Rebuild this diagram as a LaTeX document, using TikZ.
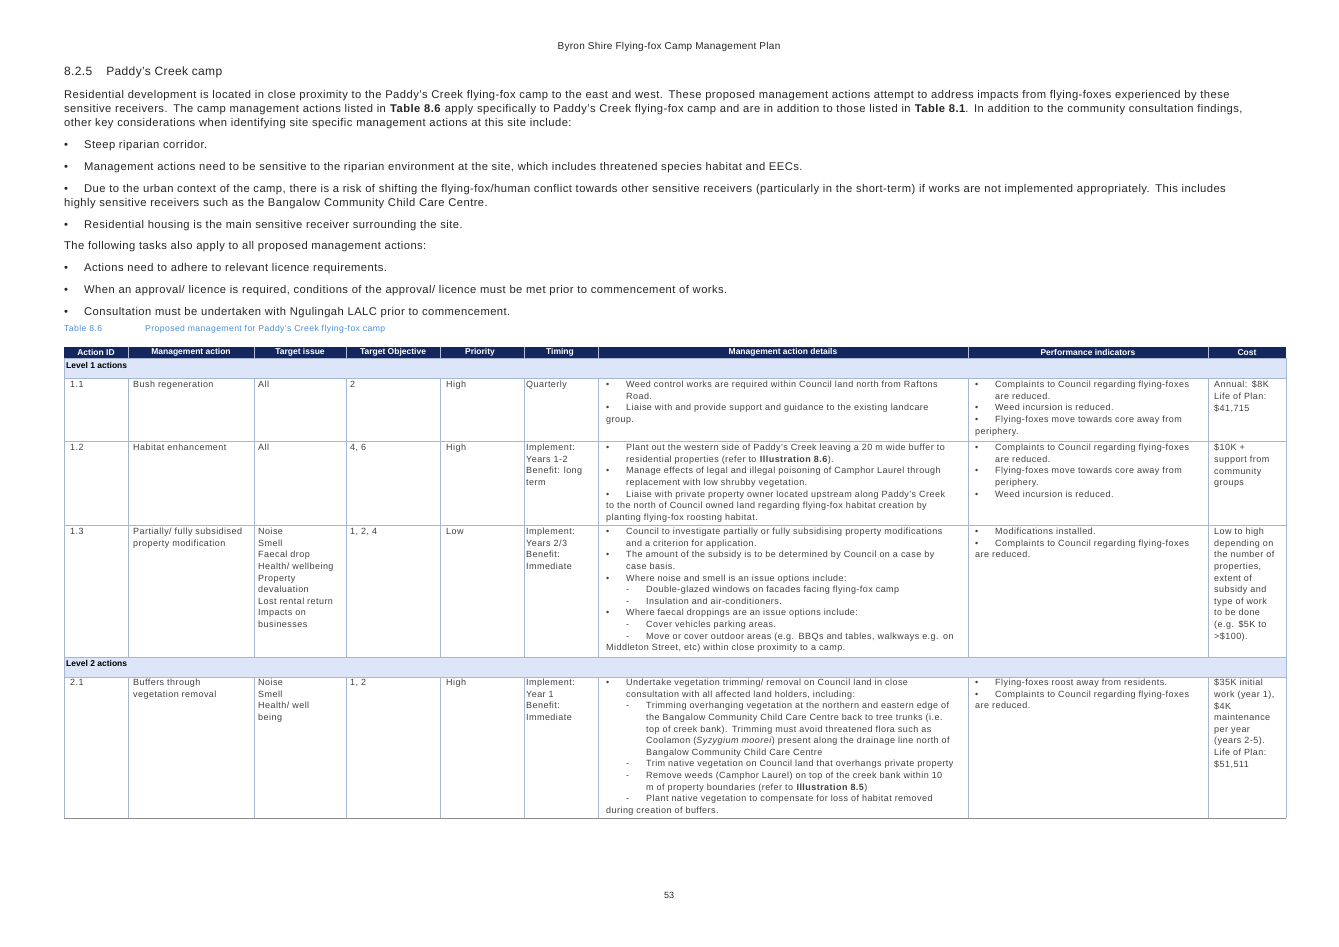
\documentclass[tikz,border=0pt]{standalone}
\usepackage{fontspec}
\setmainfont{Liberation Sans}
\definecolor{navy}{HTML}{13275E}
\definecolor{lvl}{HTML}{DCE6F8}
\definecolor{grid}{HTML}{A7B6D2}
\definecolor{capblue}{HTML}{4A8FD6}
\newcommand\nl{\hfil\break}
\newcommand\bif{\noindent\hangindent=20pt\hangafter=1\makebox[20pt][l]{\textbullet}}
\newcommand\bi{\par\bif}
\newcommand\di{\par\noindent\hangindent=40pt\hangafter=1\hspace*{20pt}\makebox[20pt][l]{-}}
\newcommand\pb{\noindent\hangindent=20pt\hangafter=1\makebox[20pt][l]{\textbullet}}
\tikzset{
 body/.style={anchor=north west,inner sep=0pt,align=left,font=\fontsize{11.2}{14}\selectfont\addfontfeature{LetterSpace=4},text=black!85},
 cell/.style={anchor=north west,inner sep=0pt,align=left,font=\fontsize{9}{11.6}\selectfont\addfontfeature{LetterSpace=5},text=black!75},
 hd/.style={font=\fontsize{8.5}{9}\selectfont\bfseries,text=white,inner sep=0pt},
 gl/.style={draw=grid,line width=0.6pt}
}
\begin{document}
\begin{tikzpicture}[x=1pt,y=-1pt]
\useasboundingbox (0,0) rectangle (1339,947);
\fill[white] (0,0) rectangle (1339,947);
\node[font=\fontsize{10}{11}\selectfont\addfontfeature{LetterSpace=3},text=black!85] (ttl) at (669,47) {Byron Shire Flying-fox Camp Management Plan};
\node[anchor=west,inner sep=0,font=\fontsize{12}{13}\selectfont\addfontfeature{LetterSpace=3},text=black!85] (sec) at (64,72) {8.2.5\hspace{14pt}Paddy's Creek camp};
\node[body,text width=1230pt] (p1) at (64,90) {Residential development is located in close proximity to the Paddy's Creek flying-fox camp to the east and west. These proposed management actions attempt to address impacts from flying-foxes experienced by these\nl
sensitive receivers. The camp management actions listed in \textbf{Table 8.6} apply specifically to Paddy's Creek flying-fox camp and are in addition to those listed in \textbf{Table 8.1}. In addition to the community consultation findings,\nl
other key considerations when identifying site specific management actions at this site include:};
\node[body,text width=1230pt] (b1) at (64,140) {\pb Steep riparian corridor.};
\node[body,text width=1230pt] (b2) at (64,162) {\pb Management actions need to be sensitive to the riparian environment at the site, which includes threatened species habitat and EECs.};
\node[body,text width=1230pt] (b3) at (64,184) {\pb Due to the urban context of the camp, there is a risk of shifting the flying-fox/human conflict towards other sensitive receivers (particularly in the short-term) if works are not implemented appropriately. This includes\nl
highly sensitive receivers such as the Bangalow Community Child Care Centre.};
\node[body,text width=1230pt] (b4) at (64,220) {\pb Residential housing is the main sensitive receiver surrounding the site.};
\node[body,text width=1230pt] (p2) at (64,241) {The following tasks also apply to all proposed management actions:};
\node[body,text width=1230pt] (b5) at (64,263) {\pb Actions need to adhere to relevant licence requirements.};
\node[body,text width=1230pt] (b6) at (64,285) {\pb When an approval/ licence is required, conditions of the approval/ licence must be met prior to commencement of works.};
\node[body,text width=1230pt] (b7) at (64,307) {\pb Consultation must be undertaken with Ngulingah LALC prior to commencement.};
\node[anchor=west,inner sep=0,font=\fontsize{8.6}{9}\selectfont\addfontfeature{LetterSpace=5},text=capblue] (cap) at (64,329) {\makebox[81pt][l]{Table 8.6}Proposed management for Paddy's Creek flying-fox camp};
% header
\fill[navy] (64,347) rectangle (1286,358);
\foreach \x in {128,254,346,440,524,598,968,1208}{\draw[white!70!navy,line width=0.8pt] (\x,347) -- (\x,358);}
\node[hd] (h1) at (96,352.5) {Action ID};
\node[hd] (h2) at (191,352.5) {Management action};
\node[hd] (h3) at (300,352.5) {Target issue};
\node[hd] (h4) at (393,352.5) {Target Objective};
\node[hd] (h5) at (480,352.5) {Priority};
\node[hd] (h6) at (560,352.5) {Timing};
\node[hd] (h7) at (783,352.5) {Management action details};
\node[hd] (h8) at (1088,352.5) {Performance indicators};
\node[hd] (h9) at (1247,352.5) {Cost};
% level rows
\filldraw[fill=lvl,draw=grid] (64,358) rectangle (1286,378);
\node[anchor=west,inner sep=0,font=\fontsize{8.5}{9}\selectfont\bfseries] (l1) at (66,365) {Level 1 actions};
\filldraw[fill=lvl,draw=grid] (64,657) rectangle (1286,677);
\node[anchor=west,inner sep=0,font=\fontsize{8.5}{9}\selectfont\bfseries] (l2) at (66,663) {Level 2 actions};
% grid
\foreach \y in {441,525}{\draw[gl] (64,\y) -- (1286,\y);}
\foreach \x in {64,128,254,346,440,524,598,968,1208,1286}{\draw[gl] (\x,378) -- (\x,657); \draw[gl] (\x,677) -- (\x,818);}
\draw[black!45,line width=0.9pt] (64,818) -- (1286,818);
% row 1.1
\node[cell] (a1) at (70,381) {1.1};
\node[cell] (a2) at (133,381) {Bush regeneration};
\node[cell] (a3) at (258,381) {All};
\node[cell] (a4) at (350,381) {2};
\node[cell] (a5) at (446,381) {High};
\node[cell] (a6) at (526,381) {Quarterly};
\node[cell,text width=360pt] (a7) at (606,381) {\bif Weed control works are required within Council land north from Raftons\nl Road.
\bi Liaise with and provide support and guidance to the existing landcare\nl group.};
\node[cell,text width=232pt] (a8) at (975,381) {\bif Complaints to Council regarding flying-foxes\nl are reduced.
\bi Weed incursion is reduced.
\bi Flying-foxes move towards core away from\nl periphery.};
\node[cell,text width=76pt] (a9) at (1214,381) {Annual: \$8K\\Life of Plan:\\\$41,715};
% row 1.2
\node[cell] (c1) at (70,444) {1.2};
\node[cell] (c2) at (133,444) {Habitat enhancement};
\node[cell] (c3) at (258,444) {All};
\node[cell] (c4) at (350,444) {4, 6};
\node[cell] (c5) at (446,444) {High};
\node[cell] (c6) at (526,444) {Implement:\\Years 1-2\\Benefit: long\\term};
\node[cell,text width=360pt] (c7) at (606,444) {\bif Plant out the western side of Paddy's Creek leaving a 20 m wide buffer to\nl residential properties (refer to \textbf{Illustration 8.6}).
\bi Manage effects of legal and illegal poisoning of Camphor Laurel through\nl replacement with low shrubby vegetation.
\bi Liaise with private property owner located upstream along Paddy's Creek\nl to the north of Council owned land regarding flying-fox habitat creation by\nl planting flying-fox roosting habitat.};
\node[cell,text width=232pt] (c8) at (975,444) {\bif Complaints to Council regarding flying-foxes\nl are reduced.
\bi Flying-foxes move towards core away from\nl periphery.
\bi Weed incursion is reduced.};
\node[cell,text width=76pt] (c9) at (1214,444) {\$10K +\\support from\\community\\groups};
% row 1.3
\node[cell] (d1) at (70,528) {1.3};
\node[cell] (d2) at (133,528) {Partially/ fully subsidised\\property modification};
\node[cell] (d3) at (258,528) {Noise\\Smell\\Faecal drop\\Health/ wellbeing\\Property\\devaluation\\Lost rental return\\Impacts on\\businesses};
\node[cell] (d4) at (350,528) {1, 2, 4};
\node[cell] (d5) at (446,528) {Low};
\node[cell] (d6) at (526,528) {Implement:\\Years 2/3\\Benefit:\\Immediate};
\node[cell,text width=360pt] (d7) at (606,528) {\bif Council to investigate partially or fully subsidising property modifications\nl and a criterion for application.
\bi The amount of the subsidy is to be determined by Council on a case by\nl case basis.
\bi Where noise and smell is an issue options include:
\di Double-glazed windows on facades facing flying-fox camp
\di Insulation and air-conditioners.
\bi Where faecal droppings are an issue options include:
\di Cover vehicles parking areas.
\di Move or cover outdoor areas (e.g. BBQs and tables, walkways e.g. on\nl Middleton Street, etc) within close proximity to a camp.};
\node[cell,text width=232pt] (d8) at (975,528) {\bif Modifications installed.
\bi Complaints to Council regarding flying-foxes\nl are reduced.};
\node[cell,text width=76pt] (d9) at (1214,528) {Low to high\\depending on\\the number of\\properties,\\extent of\\subsidy and\\type of work\\to be done\\(e.g. \$5K to\\>\$100).};
% row 2.1
\node[cell] (e1) at (70,679) {2.1};
\node[cell] (e2) at (133,679) {Buffers through\\vegetation removal};
\node[cell] (e3) at (258,679) {Noise\\Smell\\Health/ well\\being};
\node[cell] (e4) at (350,679) {1, 2};
\node[cell] (e5) at (446,679) {High};
\node[cell] (e6) at (526,679) {Implement:\\Year 1\\Benefit:\\Immediate};
\node[cell,text width=360pt] (e7) at (606,679) {\bif Undertake vegetation trimming/ removal on Council land in close\nl consultation with all affected land holders, including:
\di Trimming overhanging vegetation at the northern and eastern edge of\nl the Bangalow Community Child Care Centre back to tree trunks (i.e.\nl top of creek bank). Trimming must avoid threatened flora such as\nl Coolamon (\textit{Syzygium moorei}) present along the drainage line north of\nl Bangalow Community Child Care Centre
\di Trim native vegetation on Council land that overhangs private property
\di Remove weeds (Camphor Laurel) on top of the creek bank within 10\nl m of property boundaries (refer to \textbf{Illustration 8.5})
\di Plant native vegetation to compensate for loss of habitat removed\nl during creation of buffers.};
\node[cell,text width=232pt] (e8) at (975,679) {\bif Flying-foxes roost away from residents.
\bi Complaints to Council regarding flying-foxes\nl are reduced.};
\node[cell,text width=76pt] (e9) at (1214,679) {\$35K initial\\work (year 1),\\\$4K\\maintenance\\per year\\(years 2-5).\\Life of Plan:\\\$51,511};
\node[font=\fontsize{9}{10}\selectfont,text=black!85] (pg) at (669,895) {53};
\end{tikzpicture}
\end{document}
